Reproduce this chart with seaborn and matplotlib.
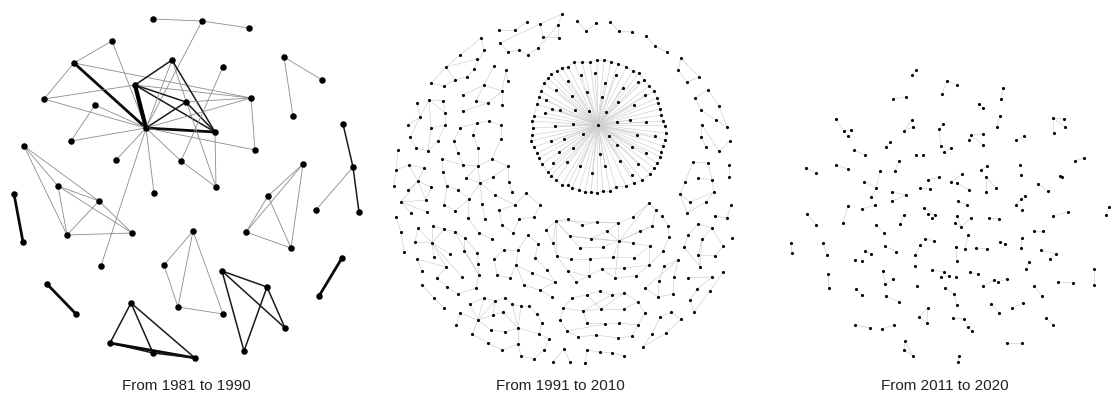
import matplotlib
matplotlib.use("Agg")
import matplotlib.pyplot as plt
from matplotlib.collections import LineCollection
import seaborn as sns

sns.set_theme(style="white")
plt.rcParams['font.family'] = ['Liberation Sans', 'DejaVu Sans']

titles = ["From 1981 to 1990", "From 1991 to 2010", "From 2011 to 2020"]
title_x = [186, 560, 945]

# ---------- panel 1 (1981-1990): node positions (pixels) ----------
p1_x = [153, 202, 249, 112, 74, 172, 223, 284, 322, 135,
        44, 95, 186, 251, 293, 146, 215, 71, 343, 255,
        24, 116, 181, 303, 353, 216, 58, 154, 14, 99,
        268, 316, 359, 23, 67, 132, 193, 246, 291, 101,
        164, 342, 222, 47, 267, 319, 76, 178, 223, 131,
        285, 110, 153, 195, 244]
p1_y = [20, 22, 29, 42, 64, 61, 68, 58, 81, 86,
        100, 106, 103, 99, 117, 129, 133, 142, 125, 151,
        147, 161, 162, 165, 168, 188, 187, 194, 195, 202,
        197, 211, 213, 243, 236, 234, 232, 233, 249, 267,
        266, 259, 272, 285, 288, 297, 315, 308, 315, 304,
        329, 344, 354, 359, 352]
# (node a, node b, weight)
p1_edges = [(0, 1, 1), (1, 2, 1), (1, 15, 1), (3, 15, 1), (3, 4, 1), (4, 15, 3), (4, 10, 1), (4, 13, 1),
            (9, 15, 4), (9, 5, 2), (9, 12, 2), (9, 16, 2), (9, 13, 1), (10, 9, 1), (10, 15, 1),
            (15, 5, 1), (15, 12, 2), (15, 16, 3), (15, 11, 1), (15, 17, 1), (15, 13, 1), (15, 19, 1),
            (15, 21, 1), (15, 22, 1), (15, 27, 1), (15, 39, 1),
            (5, 16, 2), (5, 25, 1), (12, 16, 2), (12, 13, 1), (6, 22, 1), (16, 25, 1), (22, 25, 1),
            (13, 19, 1), (11, 17, 1), (7, 8, 1), (7, 14, 1), (18, 24, 2), (24, 32, 2), (24, 31, 1),
            (23, 30, 1), (23, 37, 1), (23, 38, 1), (30, 37, 1), (30, 38, 1), (37, 38, 1),
            (20, 26, 1), (20, 34, 1), (20, 29, 1), (26, 29, 1), (26, 34, 1), (26, 35, 1), (29, 34, 1),
            (29, 35, 1), (34, 35, 1), (28, 33, 3), (43, 46, 3), (41, 45, 3),
            (36, 40, 1), (36, 47, 1), (36, 48, 1), (40, 47, 1), (47, 48, 1),
            (42, 44, 2), (42, 50, 2), (42, 54, 2), (44, 50, 2), (44, 54, 2),
            (49, 51, 2), (49, 52, 2), (49, 53, 2), (51, 52, 2), (51, 53, 3), (52, 53, 2)]

# ---------- panel 2 (1991-2010) ----------
p2_hub = (598, 126)
p2_ring = [(574, 63), (582, 63), (590, 63), (597, 61), (604, 61), (611, 63), (618, 65), (626, 68), (633, 72),
           (639, 74), (644, 81), (649, 87), (654, 92), (657, 99), (658, 104), (660, 110), (661, 116),
           (663, 122), (665, 127), (666, 134), (665, 141), (663, 147), (661, 153), (660, 158), (657, 164),
           (654, 169), (650, 175), (642, 181), (634, 184), (626, 187), (616, 188), (610, 192), (603, 192),
           (597, 194), (591, 193), (585, 193), (579, 191), (572, 189), (568, 186), (562, 186), (556, 181),
           (551, 177), (548, 173), (542, 165), (539, 159), (537, 154), (534, 148), (531, 142), (532, 136),
           (533, 129), (532, 122), (534, 117), (537, 105), (539, 98), (541, 92), (544, 84), (548, 79),
           (551, 75), (557, 72), (562, 69), (568, 68)]
p2_inner = [(581, 76), (595, 74), (568, 82), (605, 84), (616, 76), (623, 89), (638, 83), (645, 96), (587, 93),
            (602, 98), (618, 103), (634, 106), (572, 97), (575, 111), (589, 112), (606, 113), (617, 123),
            (630, 121), (646, 123), (556, 91), (560, 111), (573, 125), (583, 135), (609, 137), (637, 136),
            (655, 137), (564, 140), (573, 149), (600, 155), (617, 146), (632, 148), (646, 154), (567, 163),
            (580, 167), (605, 167), (620, 162), (638, 165), (592, 174), (632, 176), (546, 101), (552, 110),
            (545, 114), (555, 127), (551, 142), (559, 153), (553, 164)]

p2_groups = [
    ([(499, 31), (515, 31), (527, 23), (540, 25), (562, 15), (558, 26), (559, 39), (543, 38), (538, 49),
      (528, 56), (519, 51), (508, 53), (500, 44)],
     [(0, 1), (1, 2), (3, 4), (4, 5), (5, 6), (3, 7), (7, 6), (12, 3), (12, 11), (11, 10), (10, 9), (9, 8), (8, 5)]),
    ([(481, 39), (484, 51), (477, 60), (446, 68), (460, 56), (474, 70), (467, 78), (455, 81), (444, 87), (431, 84)],
     [(9, 3), (3, 4), (4, 0), (0, 1), (1, 5), (2, 3), (5, 6), (6, 7), (7, 8), (8, 9), (3, 7)]),
    ([(494, 67), (506, 71), (508, 82), (502, 92), (484, 86), (463, 96), (463, 112), (476, 102), (488, 104), (502, 106)],
     [(0, 4), (1, 2), (1, 3), (3, 9), (4, 3), (4, 5), (6, 8), (7, 8), (8, 3), (4, 7)]),
    ([(417, 104), (429, 101), (443, 102), (420, 118), (408, 126), (445, 114), (431, 129), (445, 126), (410, 138),
      (416, 149), (428, 152), (438, 142)],
     [(0, 3), (1, 2), (1, 3), (1, 5), (2, 5), (5, 7), (3, 4), (3, 8), (8, 9), (9, 10), (10, 11), (11, 7), (6, 7),
      (6, 10), (1, 6)]),
    ([(460, 129), (477, 124), (489, 122), (501, 126), (473, 136), (454, 142), (458, 154), (478, 149), (501, 140),
      (492, 160), (478, 167), (463, 166), (442, 160), (443, 173), (447, 187), (466, 179), (480, 184), (493, 178),
      (508, 167), (509, 183), (458, 191), (444, 206), (455, 212), (469, 200), (482, 205), (468, 219), (485, 220),
      (479, 234), (492, 240), (495, 196), (499, 211), (502, 226), (512, 193), (515, 206), (526, 194), (519, 220),
      (513, 234), (534, 218), (540, 206)],
     [(0, 1), (1, 2), (2, 3), (3, 8), (1, 4), (4, 7), (0, 5), (5, 6), (6, 11), (7, 10), (8, 9), (9, 10), (10, 11),
      (11, 12), (12, 13), (13, 14), (10, 15), (10, 16), (15, 16), (16, 17), (17, 18), (18, 19), (9, 18),
      (16, 23), (16, 24), (16, 29), (14, 20), (20, 23), (23, 22), (22, 21), (21, 14), (25, 27), (27, 28),
      (24, 26), (29, 33), (33, 34), (33, 30), (30, 31), (31, 36), (36, 35), (35, 37), (37, 38), (38, 34),
      (32, 19), (23, 25)]),
    ([(398, 151), (396, 171), (394, 187), (409, 166), (424, 169), (418, 182), (431, 188), (408, 191), (426, 201),
      (401, 203), (411, 214), (427, 213)],
     [(0, 1), (1, 2), (3, 5), (4, 5), (5, 6), (5, 7), (5, 8), (5, 9), (9, 10), (9, 11), (9, 8), (3, 4), (6, 8), (3, 1)]),
    ([(396, 218), (401, 233), (404, 253)], [(0, 1), (1, 2)]),
    ([(418, 229), (415, 243), (433, 227), (432, 244), (444, 230), (455, 233), (465, 239), (464, 252), (477, 254),
      (478, 265), (479, 276), (462, 278), (450, 255), (446, 268), (434, 258), (417, 260), (422, 272), (437, 279),
      (447, 288), (458, 295), (476, 289)],
     [(3, 0), (3, 1), (3, 2), (3, 4), (3, 12), (3, 14), (3, 13), (3, 11), (4, 5), (5, 6), (6, 8), (5, 10), (7, 10),
      (8, 9), (9, 10), (10, 20), (20, 19), (19, 18), (18, 17), (17, 13), (15, 13), (15, 16), (0, 1), (2, 4), (6, 7)]),
    ([(422, 286), (434, 299), (444, 309)], [(0, 1), (1, 2)]),
    ([(504, 251), (518, 251), (494, 260), (516, 266), (497, 276), (510, 279), (528, 236), (538, 245), (535, 259),
      (547, 271), (532, 274), (555, 283), (524, 286), (540, 291), (552, 298)],
     [(0, 1), (0, 2), (2, 4), (4, 5), (5, 3), (3, 1), (1, 6), (6, 7), (7, 8), (8, 9), (9, 11), (3, 12), (12, 13),
      (13, 14), (3, 10), (10, 11), (13, 11)]),
    ([(484, 299), (470, 305), (460, 314), (456, 326), (478, 321), (495, 302), (505, 299), (512, 305), (521, 307),
      (529, 307), (537, 315), (493, 316), (503, 313), (491, 331), (505, 333), (518, 329), (542, 324), (539, 335),
      (472, 335), (488, 344), (502, 351), (518, 345), (521, 357), (534, 360), (544, 351), (549, 340)],
     [(4, 0), (4, 1), (4, 2), (4, 5), (4, 11), (4, 13), (4, 18), (2, 3), (0, 5), (5, 6), (6, 7), (7, 8), (8, 9),
      (9, 10), (10, 16), (16, 17), (15, 7), (15, 14), (15, 17), (15, 21), (15, 12), (15, 8), (11, 12), (13, 14),
      (18, 19), (19, 20), (20, 21), (21, 22), (22, 23), (23, 24), (24, 25), (25, 17), (1, 0), (5, 11)]),
    ([(572, 299), (587, 296), (600, 292), (612, 296), (624, 294), (638, 303), (645, 314), (638, 326), (632, 337),
      (618, 339), (596, 336), (578, 338), (567, 332), (560, 321), (563, 309), (583, 312), (601, 310), (624, 310),
      (587, 324), (605, 325), (619, 324)],
     [(0, 1), (1, 2), (2, 3), (3, 4), (4, 5), (5, 6), (6, 7), (7, 8), (8, 9), (9, 10), (10, 11), (11, 12),
      (12, 13), (13, 14), (14, 0), (14, 15), (15, 16), (16, 17), (17, 5), (15, 18), (18, 19), (19, 20), (20, 7),
      (12, 19), (16, 4), (15, 3), (1, 16)]),
    ([(553, 363), (564, 350), (570, 363)], [(0, 1), (1, 2)]),
    ([(587, 351), (585, 364), (600, 353), (612, 354), (624, 357)], [(0, 1), (0, 2), (2, 3), (3, 4)]),
    ([(643, 348), (652, 335), (660, 318), (671, 313), (681, 320), (666, 334)],
     [(0, 1), (1, 2), (2, 3), (3, 4), (4, 5), (5, 0)]),
    ([(649, 204), (656, 211), (633, 218), (618, 224), (597, 223), (582, 226), (568, 220), (556, 222), (570, 237),
      (591, 240), (607, 232), (619, 242), (640, 232), (652, 227), (650, 247), (633, 244), (603, 248), (580, 249),
      (557, 257), (571, 260), (590, 260), (613, 258), (634, 259), (624, 269), (602, 270), (589, 277), (568, 272),
      (576, 283), (615, 279), (636, 277), (649, 266), (546, 231), (553, 244), (662, 217), (668, 227), (669, 238),
      (663, 252)],
     [(7, 6), (6, 5), (5, 4), (4, 3), (3, 2), (7, 3), (2, 0), (0, 1), (3, 11), (11, 0), (11, 10), (11, 12),
      (11, 13), (11, 14), (11, 15), (11, 9), (11, 16), (11, 21), (11, 28), (11, 8), (7, 8), (7, 17), (7, 18),
      (7, 32), (7, 31), (31, 32), (32, 18), (18, 19), (19, 20), (20, 21), (21, 22), (22, 14), (18, 26), (26, 27),
      (27, 24), (24, 23), (23, 30), (30, 14), (8, 9), (9, 10), (12, 13), (13, 1), (16, 17), (24, 28), (28, 29),
      (29, 30), (25, 26), (20, 25), (3, 10), (33, 34), (34, 35), (35, 36), (36, 30)]),
    ([(678, 261), (664, 267), (674, 278), (659, 282), (645, 289), (658, 298), (673, 295)],
     [(0, 4), (0, 1), (0, 2), (2, 6), (1, 3), (3, 5), (4, 5), (5, 6)]),
    ([(685, 183), (680, 195), (690, 203), (687, 214), (706, 203), (714, 193), (712, 181), (693, 163), (708, 164),
      (698, 179)],
     [(0, 1), (1, 3), (3, 4), (4, 5), (5, 6), (1, 2), (2, 5), (7, 0), (8, 6), (9, 6), (7, 8)]),
    ([(731, 206), (727, 219), (715, 217)], [(0, 1), (1, 2)]),
    ([(732, 239)], []),
    ([(729, 166), (729, 178)], [(0, 1)]),
    ([(698, 225), (712, 229), (688, 236), (702, 240), (684, 248), (723, 247), (698, 256), (715, 257), (700, 268)],
     [(0, 1), (1, 5), (5, 7), (2, 0), (2, 4), (4, 8), (8, 6), (6, 7), (3, 1), (3, 8), (3, 6)]),
    ([(688, 279), (723, 273), (712, 278), (697, 290), (710, 292), (690, 301), (694, 313)],
     [(1, 4), (4, 6), (2, 3), (3, 5), (5, 6), (0, 2)]),
    ([(681, 59), (678, 71), (687, 83), (699, 78)], [(0, 1), (1, 2), (2, 3), (3, 0)]),
    ([(708, 91), (695, 99), (701, 111), (719, 107), (716, 121), (727, 128)],
     [(0, 1), (0, 3), (1, 2), (2, 4), (3, 5), (4, 5)]),
    ([(702, 126), (701, 138), (706, 148), (719, 152), (730, 142)], [(0, 1), (0, 3), (1, 2), (3, 4)]),
    ([(577, 22), (586, 32), (596, 24)], [(0, 1), (1, 2)]),
    ([(610, 23), (619, 32), (632, 33)], [(0, 1), (1, 2)]),
    ([(646, 37), (655, 47), (667, 53)], [(0, 1), (1, 2)]),
]

# ---------- panel 3 (2011-2020) ----------
p3_groups = [
    ([(916, 71), (912, 76)], [(0, 1)]),
    ([(947, 82), (957, 86), (942, 95)], [(0, 1), (0, 2)]),
    ([(1003, 89), (1001, 100)], [(0, 1)]),
    ([(893, 100), (906, 98)], [(0, 1)]),
    ([(979, 105), (983, 109)], [(0, 1)]),
    ([(836, 120), (844, 132), (851, 131), (848, 137)], [(0, 1), (1, 2), (1, 3)]),
    ([(912, 121), (913, 128), (904, 132)], [(0, 2), (1, 2)]),
    ([(943, 125), (939, 130), (941, 147)], [(0, 1), (1, 2)]),
    ([(1000, 117), (997, 128)], [(0, 1)]),
    ([(1053, 119), (1064, 120), (1065, 128), (1054, 134)], [(0, 1), (0, 2), (0, 3)]),
    ([(971, 136), (983, 135), (969, 141), (983, 146)], [(0, 1), (0, 2), (0, 3)]),
    ([(1016, 141), (1024, 137)], [(0, 1)]),
    ([(890, 143), (886, 148)], [(0, 1)]),
    ([(854, 151), (865, 156)], [(0, 1)]),
    ([(944, 153), (951, 149)], [(0, 1)]),
    ([(916, 156), (923, 156)], []),
    ([(1075, 162), (1084, 159)], [(0, 1)]),
    ([(899, 162), (895, 172)], [(0, 1)]),
    ([(806, 169), (816, 174)], [(0, 1)]),
    ([(836, 166), (848, 170)], [(0, 1)]),
    ([(981, 171), (987, 167)], [(0, 1)]),
    ([(1020, 166), (1021, 176)], []),
    ([(880, 172), (876, 189), (864, 183), (871, 198)], [(0, 1), (1, 3), (2, 1)]),
    ([(1060, 177), (1062, 178)], [(0, 1)]),
    ([(928, 181), (939, 178)], [(0, 1)]),
    ([(951, 183), (962, 175)], [(0, 1)]),
    ([(957, 184), (969, 191)], [(0, 1)]),
    ([(986, 178), (996, 189), (986, 193)], [(0, 1), (0, 2)]),
    ([(1038, 185), (1048, 192)], [(0, 1)]),
    ([(920, 189), (930, 190)], [(0, 1)]),
    ([(892, 193), (906, 196), (892, 202)], [(0, 1), (1, 2)]),
    ([(958, 202), (967, 206)], [(0, 1)]),
    ([(1021, 200), (1025, 197), (1016, 206), (1022, 211)], [(0, 2), (0, 1)]),
    ([(848, 207), (843, 224)], [(0, 1)]),
    ([(862, 210), (875, 206)], [(0, 1)]),
    ([(924, 209), (935, 216), (928, 215), (932, 219)], [(0, 1), (2, 1)]),
    ([(1109, 208), (1106, 216)], [(0, 1)]),
    ([(807, 215), (816, 226)], [(0, 1)]),
    ([(904, 216), (900, 225)], [(0, 1)]),
    ([(957, 217), (955, 224), (961, 228), (971, 219)], [(0, 2), (1, 2), (2, 3)]),
    ([(989, 219), (999, 220)], [(0, 1)]),
    ([(1053, 217), (1068, 213)], [(0, 1)]),
    ([(876, 226), (884, 234)], [(0, 1)]),
    ([(1034, 232), (1043, 232)], [(0, 1)]),
    ([(791, 244), (792, 254)], [(0, 1)]),
    ([(823, 244), (827, 256)], [(0, 1)]),
    ([(925, 240), (934, 242)], [(0, 1)]),
    ([(968, 236), (965, 250)], [(0, 1)]),
    ([(1022, 239), (1021, 249)], [(0, 1)]),
    ([(1000, 243), (1005, 245)], [(0, 1)]),
    ([(920, 246), (915, 256)], [(0, 1)]),
    ([(885, 247), (896, 253)], [(0, 1)]),
    ([(865, 252), (871, 255)], [(0, 1)]),
    ([(956, 248), (957, 262)], [(0, 1)]),
    ([(976, 249), (987, 250)], [(0, 1)]),
    ([(1041, 251), (1056, 255), (1050, 260)], [(0, 1), (1, 2)]),
    ([(855, 261), (862, 262)], []),
    ([(1029, 263), (1026, 270)], [(0, 1)]),
    ([(915, 267)], []),
    ([(1094, 270), (1094, 286)], [(0, 1)]),
    ([(932, 271), (944, 273), (941, 278), (949, 277), (956, 278)], [(0, 1), (2, 3)]),
    ([(970, 273), (978, 275)], [(0, 1)]),
    ([(828, 275), (829, 289)], [(0, 1)]),
    ([(883, 272), (885, 285), (893, 280)], [(0, 1), (1, 2)]),
    ([(994, 281), (998, 283), (1007, 280), (983, 287)], [(0, 3), (1, 2)]),
    ([(1058, 283), (1073, 284)], [(0, 1)]),
    ([(917, 287)], []),
    ([(856, 290), (862, 296)], [(0, 1)]),
    ([(945, 289), (954, 295), (957, 306)], [(0, 1), (1, 2)]),
    ([(1034, 287), (1042, 297)], [(0, 1)]),
    ([(886, 297), (899, 303)], [(0, 1)]),
    ([(991, 305), (999, 314)], [(0, 1)]),
    ([(1012, 309), (1023, 304)], [(0, 1)]),
    ([(928, 309), (919, 318), (927, 324)], [(0, 1), (1, 2), (0, 2)]),
    ([(953, 319), (964, 320), (968, 328), (972, 332)], [(0, 1), (1, 2), (2, 3)]),
    ([(1046, 319), (1053, 326)], [(0, 1)]),
    ([(855, 326), (870, 329)], [(0, 1)]),
    ([(882, 330), (894, 326)], [(0, 1)]),
    ([(1007, 344), (1022, 344)], [(0, 1)]),
    ([(905, 342), (904, 351), (913, 357)], [(0, 1), (1, 2), (0, 2)]),
    ([(959, 357), (958, 363)], [(0, 1)]),
]


def flatten(groups):
    xs, ys, segs = [], [], []
    for nodes, edges in groups:
        for a, b in edges:
            segs.append([nodes[a], nodes[b]])
        xs += [p[0] for p in nodes]
        ys += [p[1] for p in nodes]
    return xs, ys, segs


fig = plt.figure(figsize=(11.11, 4.02), dpi=100)
ax = fig.add_axes([0, 0, 1, 1])

# panel 1
w_style = {1: (0.6, '#8c8c8c'), 2: (1.1, '#1a1a1a'), 3: (2.0, '#0a0a0a'), 4: (3.0, '#000000')}
segs1 = [[(p1_x[a], p1_y[a]), (p1_x[b], p1_y[b])] for a, b, w in p1_edges]
ax.add_collection(LineCollection(segs1, linewidths=[w_style[w][0] for a, b, w in p1_edges],
                                 colors=[w_style[w][1] for a, b, w in p1_edges], zorder=1))
sns.scatterplot(x=p1_x, y=p1_y, ax=ax, s=22, color='black', linewidth=0, zorder=3)

# panel 2
hub_nodes = p2_ring + p2_inner
ring_edges = [(i, (i + 1) % len(p2_ring)) for i in range(len(p2_ring))]
x2, y2, segs2 = flatten(p2_groups + [(p2_ring, ring_edges)])
segs2 += [[p2_hub, p] for p in hub_nodes]
x2 += [p2_hub[0]] + [p[0] for p in p2_inner]
y2 += [p2_hub[1]] + [p[1] for p in p2_inner]
ax.add_collection(LineCollection(segs2, linewidths=0.45, colors='#cdcdcd', zorder=1))
sns.scatterplot(x=x2, y=y2, ax=ax, s=5, color='black', linewidth=0, zorder=3)

# panel 3
x3, y3, segs3 = flatten(p3_groups)
ax.add_collection(LineCollection(segs3, linewidths=0.45, colors='#cdcdcd', zorder=1))
sns.scatterplot(x=x3, y=y3, ax=ax, s=5, color='black', linewidth=0, zorder=3)

for t, tx in zip(titles, title_x):
    ax.text(tx, 386, t, ha='center', va='center', fontsize=11, color='#222222')

ax.set_xlim(0, 1111)
ax.set_ylim(402, 0)
ax.axis('off')
fig.savefig('out.png', dpi=100, facecolor='white')
